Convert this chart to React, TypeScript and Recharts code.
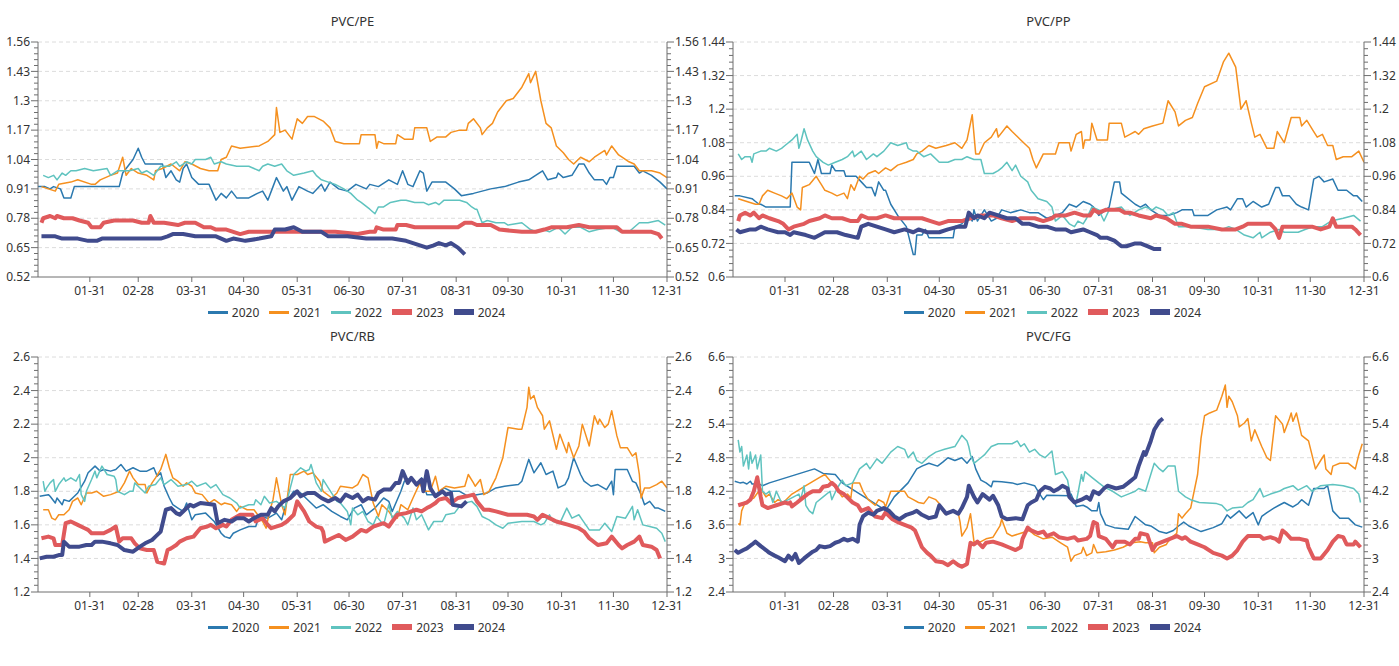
import React from 'react';
import { LineChart, Line, XAxis, YAxis, ReferenceLine, Legend } from 'recharts';

type Pt = [number, number];

const monthEndDays = [31, 59, 90, 120, 151, 181, 212, 243, 273, 304, 334, 365];
const monthEndLabels = ['01-31', '02-28', '03-31', '04-30', '05-31', '06-30', '07-31', '08-31', '09-30', '10-31', '11-30', '12-31'];
const years = ['2020', '2021', '2022', '2023', '2024'];
const yearColors = ['#2b79af', '#f5901f', '#5fc3bf', '#e05a5c', '#404b8d'];
const yearWidths = [1.5, 1.5, 1.5, 4, 4];

const peTicks = [0.52, 0.65, 0.78, 0.91, 1.04, 1.17, 1.3, 1.43, 1.56];
const ppTicks = [0.6, 0.72, 0.84, 0.96, 1.08, 1.2, 1.32, 1.44];
const rbTicks = [1.2, 1.4, 1.6, 1.8, 2, 2.2, 2.4, 2.6];
const fgTicks = [2.4, 3, 3.6, 4.2, 4.8, 5.4, 6, 6.6];

// ---------- PVC/PE ----------
const pe2020: Pt[] = [[1,0.92],[5,0.92],[8,0.91],[10,0.92],[14,0.91],[16,0.87],[20,0.87],[22,0.92],[48,0.92],[50,0.98],[56,1.04],[59,1.09],[61,1.05],[63,1.02],[73,1.02],[75,0.96],[78,0.99],[81,0.95],[83,0.94],[85,1.0],[87,1.02],[90,0.96],[94,0.93],[100,0.93],[104,0.86],[107,0.89],[110,0.87],[113,0.9],[116,0.87],[123,0.87],[128,0.89],[131,0.9],[134,0.86],[137,0.92],[139,0.96],[143,0.9],[145,0.92],[148,0.86],[152,0.92],[157,0.9],[160,0.89],[165,0.93],[167,0.9],[170,0.94],[175,0.91],[180,0.9],[185,0.93],[191,0.91],[193,0.93],[198,0.92],[204,0.95],[209,0.93],[212,0.99],[215,0.93],[218,0.92],[222,0.99],[224,0.98],[226,0.9],[229,0.94],[237,0.94],[242,0.91],[246,0.88],[253,0.89],[258,0.9],[263,0.91],[271,0.92],[279,0.94],[285,0.95],[289,0.97],[293,0.99],[296,0.95],[301,0.96],[302,0.98],[305,0.96],[310,0.97],[314,1.02],[317,1.02],[320,0.98],[323,0.95],[328,0.95],[330,0.93],[332,0.96],[334,0.96],[336,1.01],[346,1.01],[349,0.98],[351,0.99],[356,0.97],[361,0.94],[365,0.91]];
const pe2021: Pt[] = [[3,0.92],[11,0.9],[13,0.93],[20,0.94],[24,0.95],[32,0.93],[34,0.93],[37,0.95],[43,0.97],[47,0.98],[50,1.05],[52,0.97],[55,1.0],[59,0.98],[64,0.97],[68,0.95],[69,0.99],[73,1.0],[78,1.02],[83,0.99],[86,1.03],[90,1.02],[95,1.0],[100,0.99],[105,0.99],[107,1.04],[110,1.05],[113,1.1],[118,1.09],[129,1.1],[134,1.12],[138,1.15],[139,1.27],[141,1.16],[144,1.17],[148,1.13],[151,1.22],[154,1.2],[157,1.23],[161,1.23],[166,1.21],[170,1.18],[173,1.12],[178,1.11],[187,1.11],[188,1.15],[196,1.15],[197,1.09],[198,1.12],[201,1.11],[208,1.11],[209,1.15],[213,1.13],[218,1.13],[219,1.18],[226,1.18],[228,1.12],[232,1.14],[237,1.14],[240,1.16],[245,1.17],[249,1.17],[250,1.2],[253,1.22],[257,1.18],[258,1.15],[261,1.18],[264,1.2],[267,1.25],[272,1.3],[276,1.31],[281,1.36],[285,1.42],[286,1.38],[289,1.43],[292,1.3],[295,1.2],[298,1.18],[301,1.1],[305,1.07],[308,1.04],[311,1.02],[315,1.05],[320,1.03],[323,1.05],[329,1.08],[330,1.06],[333,1.1],[337,1.06],[339,1.05],[343,1.03],[346,1.02],[349,0.99],[356,0.99],[361,0.98],[365,0.96]];
const pe2022: Pt[] = [[4,0.97],[7,0.96],[10,0.97],[12,0.95],[15,0.98],[17,0.97],[20,0.99],[23,0.99],[28,1.0],[33,0.99],[41,1.0],[43,0.97],[47,0.99],[54,0.99],[59,1.0],[61,0.98],[64,0.99],[68,0.97],[72,1.01],[77,1.01],[81,1.03],[83,1.01],[87,1.03],[90,1.02],[92,1.04],[98,1.04],[101,1.05],[103,1.02],[107,1.03],[110,1.02],[116,1.01],[123,1.01],[129,0.99],[131,1.01],[134,1.02],[138,1.01],[142,1.02],[145,0.99],[149,0.97],[155,0.98],[160,0.99],[162,0.97],[165,0.95],[169,0.94],[173,0.93],[178,0.91],[182,0.89],[186,0.86],[188,0.85],[193,0.82],[196,0.8],[198,0.83],[201,0.83],[205,0.85],[211,0.86],[214,0.86],[219,0.85],[224,0.85],[227,0.84],[231,0.85],[233,0.84],[236,0.86],[245,0.86],[249,0.85],[252,0.83],[254,0.82],[255,0.82],[258,0.76],[261,0.77],[266,0.76],[271,0.76],[273,0.75],[281,0.76],[286,0.73],[289,0.72],[293,0.73],[297,0.72],[302,0.74],[306,0.71],[310,0.74],[315,0.74],[320,0.72],[325,0.73],[333,0.74],[338,0.72],[343,0.72],[346,0.74],[349,0.76],[354,0.76],[360,0.77],[364,0.75]];
const pe2023: Pt[] = [[3,0.76],[4,0.78],[8,0.79],[11,0.78],[12,0.79],[16,0.78],[21,0.78],[25,0.77],[30,0.76],[32,0.74],[37,0.74],[39,0.76],[45,0.77],[56,0.77],[61,0.76],[65,0.76],[66,0.79],[68,0.76],[74,0.76],[82,0.75],[86,0.76],[92,0.76],[97,0.74],[101,0.74],[104,0.73],[110,0.73],[118,0.71],[123,0.72],[131,0.72],[136,0.72],[147,0.72],[154,0.72],[160,0.72],[173,0.72],[186,0.71],[193,0.72],[196,0.72],[197,0.74],[201,0.73],[208,0.73],[209,0.75],[214,0.75],[219,0.74],[237,0.74],[244,0.74],[248,0.76],[252,0.76],[255,0.75],[263,0.75],[268,0.73],[281,0.72],[289,0.72],[294,0.73],[298,0.74],[307,0.74],[314,0.75],[320,0.74],[336,0.74],[339,0.72],[356,0.72],[360,0.71],[362,0.69]];
const pe2024: Pt[] = [[3,0.7],[11,0.7],[15,0.69],[24,0.69],[30,0.68],[35,0.68],[38,0.69],[51,0.69],[59,0.69],[72,0.69],[76,0.7],[79,0.71],[85,0.71],[92,0.7],[104,0.7],[110,0.68],[114,0.69],[121,0.68],[129,0.69],[136,0.7],[138,0.73],[144,0.73],[149,0.74],[154,0.72],[165,0.72],[169,0.7],[180,0.7],[191,0.69],[198,0.69],[206,0.69],[214,0.68],[222,0.66],[226,0.65],[230,0.66],[233,0.67],[237,0.66],[240,0.67],[244,0.65],[248,0.62]];

// ---------- PVC/PP ----------
const pp2020: Pt[] = [[2,0.89],[5,0.89],[12,0.88],[14,0.87],[16,0.86],[17,0.86],[20,0.85],[34,0.85],[35,1.01],[45,1.01],[48,0.97],[50,1.02],[52,0.97],[57,0.97],[58,1.0],[60,0.98],[65,0.98],[66,0.96],[72,0.96],[75,0.94],[78,0.92],[81,0.92],[83,0.89],[85,0.94],[88,0.91],[89,0.91],[92,0.86],[96,0.82],[101,0.78],[105,0.68],[106,0.68],[107,0.75],[110,0.75],[112,0.77],[114,0.74],[128,0.74],[129,0.78],[133,0.79],[137,0.82],[139,0.8],[140,0.84],[142,0.8],[146,0.84],[150,0.8],[153,0.81],[156,0.84],[161,0.83],[167,0.84],[172,0.83],[177,0.83],[182,0.81],[187,0.82],[191,0.83],[195,0.86],[199,0.85],[203,0.87],[207,0.86],[209,0.85],[212,0.82],[216,0.84],[218,0.85],[221,0.94],[224,0.94],[225,0.9],[227,0.89],[233,0.86],[236,0.85],[239,0.86],[242,0.84],[247,0.82],[252,0.82],[257,0.83],[260,0.84],[266,0.84],[267,0.82],[275,0.82],[280,0.84],[286,0.85],[288,0.84],[292,0.88],[295,0.88],[297,0.85],[301,0.87],[306,0.85],[310,0.86],[314,0.92],[316,0.92],[318,0.89],[322,0.89],[326,0.86],[329,0.85],[333,0.84],[336,0.95],[339,0.96],[342,0.94],[347,0.95],[350,0.91],[355,0.91],[359,0.89],[361,0.89],[364,0.87]];
const pp2021: Pt[] = [[4,0.88],[9,0.87],[14,0.86],[16,0.86],[18,0.89],[21,0.91],[25,0.9],[29,0.89],[32,0.88],[35,0.9],[38,0.85],[40,0.84],[41,0.92],[45,0.93],[49,0.96],[52,0.93],[54,0.91],[58,0.9],[61,0.89],[65,0.9],[67,0.88],[69,0.93],[71,0.91],[74,0.96],[76,0.95],[79,0.97],[83,0.98],[85,0.97],[89,0.99],[92,0.98],[96,1.0],[101,1.01],[105,1.02],[107,1.04],[110,1.05],[114,1.07],[118,1.06],[124,1.07],[129,1.08],[133,1.06],[136,1.09],[139,1.18],[141,1.04],[143,1.04],[146,1.08],[150,1.1],[153,1.13],[154,1.1],[159,1.14],[162,1.12],[167,1.09],[172,1.06],[174,1.02],[176,0.99],[180,1.04],[187,1.04],[189,1.08],[195,1.08],[196,1.05],[199,1.11],[202,1.12],[203,1.06],[204,1.09],[207,1.09],[208,1.15],[211,1.09],[217,1.09],[218,1.15],[225,1.15],[227,1.1],[230,1.11],[233,1.12],[235,1.11],[238,1.13],[243,1.14],[249,1.15],[252,1.23],[256,1.19],[258,1.14],[262,1.16],[266,1.17],[269,1.22],[273,1.28],[280,1.3],[284,1.37],[287,1.4],[291,1.35],[294,1.2],[297,1.23],[300,1.15],[302,1.1],[305,1.11],[309,1.06],[313,1.06],[315,1.12],[319,1.08],[323,1.17],[328,1.17],[329,1.14],[332,1.16],[336,1.12],[338,1.1],[341,1.11],[344,1.07],[347,1.07],[349,1.02],[353,1.03],[358,1.03],[362,1.05],[365,1.01]];
const pp2022: Pt[] = [[4,1.04],[6,1.02],[8,1.03],[11,1.03],[12,1.01],[13,1.04],[17,1.05],[20,1.05],[22,1.06],[26,1.05],[29,1.06],[31,1.07],[35,1.09],[38,1.11],[39,1.06],[40,1.08],[42,1.13],[44,1.09],[47,1.05],[49,1.03],[53,1.01],[56,1.0],[60,1.01],[64,1.02],[67,1.03],[70,1.05],[71,1.03],[75,1.05],[78,1.02],[82,1.04],[84,1.03],[88,1.05],[92,1.08],[96,1.07],[101,1.08],[102,1.06],[105,1.05],[107,1.05],[111,1.03],[115,1.04],[120,1.01],[125,1.01],[129,1.02],[133,1.02],[136,1.03],[140,1.02],[144,1.02],[146,0.97],[151,0.97],[154,0.98],[156,0.99],[159,1.01],[162,0.98],[164,1.0],[167,0.96],[171,0.94],[173,0.91],[177,0.88],[182,0.87],[185,0.85],[187,0.8],[191,0.82],[195,0.79],[198,0.78],[200,0.8],[203,0.79],[205,0.81],[208,0.85],[212,0.84],[215,0.8],[218,0.84],[225,0.85],[228,0.83],[230,0.82],[235,0.84],[239,0.85],[243,0.84],[245,0.85],[249,0.84],[252,0.82],[255,0.83],[258,0.78],[265,0.78],[275,0.77],[283,0.77],[287,0.78],[291,0.77],[296,0.75],[301,0.74],[305,0.76],[306,0.74],[311,0.76],[316,0.77],[319,0.76],[327,0.76],[331,0.77],[336,0.78],[341,0.78],[346,0.8],[353,0.81],[359,0.82],[363,0.8]];
const pp2023: Pt[] = [[4,0.8],[5,0.82],[8,0.83],[11,0.82],[13,0.83],[16,0.81],[18,0.82],[22,0.81],[27,0.8],[30,0.79],[33,0.77],[36,0.78],[42,0.79],[45,0.8],[51,0.81],[54,0.82],[58,0.81],[64,0.81],[69,0.8],[73,0.8],[75,0.82],[79,0.81],[84,0.81],[89,0.82],[94,0.81],[102,0.81],[110,0.81],[115,0.8],[120,0.79],[125,0.8],[133,0.8],[138,0.81],[144,0.82],[151,0.82],[156,0.81],[162,0.8],[167,0.81],[175,0.81],[180,0.8],[185,0.81],[187,0.82],[193,0.82],[198,0.83],[203,0.82],[207,0.82],[209,0.84],[212,0.83],[216,0.84],[224,0.84],[227,0.83],[230,0.83],[235,0.82],[242,0.81],[245,0.82],[251,0.81],[256,0.79],[260,0.79],[265,0.78],[275,0.78],[283,0.77],[291,0.77],[295,0.78],[298,0.79],[311,0.79],[314,0.77],[316,0.74],[318,0.78],[327,0.78],[335,0.78],[340,0.77],[345,0.78],[347,0.81],[349,0.78],[358,0.78],[360,0.77],[363,0.75]];
const pp2024: Pt[] = [[3,0.77],[5,0.76],[11,0.77],[14,0.77],[17,0.78],[21,0.77],[27,0.76],[31,0.76],[34,0.75],[36,0.76],[43,0.75],[48,0.74],[54,0.76],[61,0.76],[66,0.75],[73,0.74],[75,0.78],[79,0.79],[84,0.78],[89,0.77],[94,0.76],[100,0.77],[105,0.76],[108,0.77],[113,0.76],[120,0.76],[125,0.77],[131,0.78],[135,0.78],[137,0.83],[140,0.81],[142,0.82],[146,0.81],[149,0.83],[154,0.82],[159,0.81],[164,0.81],[168,0.79],[172,0.79],[177,0.78],[182,0.78],[187,0.77],[193,0.77],[196,0.76],[203,0.77],[207,0.76],[211,0.75],[213,0.74],[217,0.74],[221,0.73],[225,0.71],[228,0.71],[233,0.72],[236,0.72],[240,0.71],[244,0.7],[248,0.7]];

// ---------- PVC/RB ----------
const rb2020: Pt[] = [[2,1.77],[7,1.78],[8,1.77],[11,1.73],[12,1.76],[15,1.72],[16,1.75],[19,1.74],[21,1.76],[24,1.79],[28,1.86],[30,1.91],[34,1.95],[37,1.92],[39,1.93],[43,1.92],[46,1.93],[49,1.96],[52,1.92],[56,1.94],[60,1.92],[64,1.92],[68,1.94],[70,1.89],[72,1.91],[74,1.83],[77,1.76],[79,1.72],[82,1.7],[85,1.68],[87,1.73],[90,1.63],[92,1.66],[98,1.67],[103,1.62],[107,1.55],[109,1.53],[112,1.52],[114,1.55],[118,1.57],[123,1.59],[127,1.59],[129,1.65],[134,1.64],[139,1.67],[142,1.63],[145,1.74],[149,1.8],[153,1.79],[157,1.75],[162,1.7],[166,1.72],[171,1.68],[176,1.65],[180,1.63],[184,1.7],[188,1.72],[191,1.66],[196,1.7],[201,1.76],[204,1.74],[206,1.68],[211,1.8],[213,1.86],[217,1.88],[220,1.84],[223,1.88],[226,1.78],[231,1.78],[236,1.82],[240,1.8],[245,1.8],[250,1.77],[255,1.78],[261,1.79],[266,1.82],[271,1.83],[279,1.84],[281,1.86],[285,1.99],[288,1.91],[292,1.97],[295,1.9],[299,1.92],[302,1.82],[306,1.84],[308,1.88],[311,2.0],[315,1.9],[317,1.86],[321,1.83],[325,1.84],[330,1.81],[333,1.86],[334,1.78],[335,1.93],[342,1.93],[345,1.86],[347,1.85],[350,1.78],[352,1.72],[355,1.74],[358,1.7],[360,1.7],[364,1.68]];
const rb2021: Pt[] = [[4,1.69],[7,1.69],[9,1.64],[11,1.63],[13,1.66],[16,1.66],[19,1.69],[21,1.74],[24,1.76],[26,1.72],[29,1.79],[32,1.79],[35,1.8],[39,1.77],[43,1.78],[48,1.8],[51,1.85],[54,1.92],[56,1.88],[59,1.84],[63,1.84],[64,1.79],[67,1.85],[69,1.88],[72,1.93],[75,2.02],[77,1.94],[79,1.88],[82,1.86],[85,1.83],[87,1.85],[90,1.83],[92,1.79],[96,1.78],[100,1.73],[103,1.75],[107,1.72],[109,1.73],[113,1.72],[116,1.68],[118,1.71],[122,1.69],[126,1.69],[131,1.62],[133,1.58],[135,1.68],[137,1.75],[139,1.88],[142,1.72],[144,1.66],[147,1.9],[151,1.9],[155,1.92],[157,1.9],[160,1.91],[164,1.86],[166,1.8],[171,1.76],[174,1.79],[176,1.83],[183,1.82],[186,1.84],[189,1.9],[192,1.88],[195,1.73],[198,1.65],[200,1.72],[204,1.68],[206,1.65],[209,1.64],[211,1.72],[215,1.69],[218,1.76],[222,1.85],[224,1.8],[228,1.8],[231,1.89],[233,1.8],[237,1.83],[242,1.82],[248,1.83],[250,1.9],[253,1.85],[254,1.83],[257,1.87],[259,1.78],[262,1.8],[266,1.88],[270,2.0],[273,2.18],[279,2.17],[281,2.17],[284,2.3],[285,2.42],[286,2.35],[288,2.37],[290,2.3],[293,2.25],[294,2.17],[297,2.22],[301,2.05],[303,2.14],[307,2.03],[308,2.09],[311,2.0],[314,2.07],[316,2.2],[320,2.07],[323,2.25],[325,2.2],[326,2.23],[329,2.18],[331,2.2],[333,2.28],[336,2.13],[338,2.06],[342,2.06],[345,2.01],[347,2.03],[349,1.9],[350,1.76],[352,1.82],[355,1.82],[359,1.84],[362,1.86],[365,1.82]];
const rb2022: Pt[] = [[4,1.86],[5,1.8],[6,1.82],[8,1.85],[10,1.87],[11,1.8],[13,1.84],[16,1.88],[17,1.86],[20,1.88],[23,1.86],[25,1.9],[26,1.78],[28,1.74],[29,1.8],[32,1.87],[34,1.92],[35,1.88],[38,1.95],[41,1.9],[45,1.89],[46,1.87],[47,1.8],[51,1.78],[54,1.8],[56,1.8],[57,1.85],[60,1.82],[63,1.79],[65,1.83],[69,1.84],[72,1.88],[74,1.84],[78,1.87],[82,1.83],[87,1.84],[90,1.86],[93,1.83],[98,1.85],[101,1.82],[104,1.84],[108,1.78],[112,1.76],[116,1.73],[118,1.7],[123,1.72],[126,1.72],[127,1.75],[130,1.72],[132,1.77],[135,1.73],[139,1.74],[144,1.7],[147,1.82],[149,1.9],[153,1.94],[156,1.92],[158,1.93],[159,1.96],[162,1.85],[165,1.8],[166,1.87],[169,1.82],[174,1.74],[176,1.73],[180,1.68],[182,1.6],[183,1.7],[186,1.66],[189,1.68],[192,1.62],[195,1.6],[197,1.65],[201,1.6],[204,1.72],[206,1.64],[209,1.68],[213,1.64],[215,1.6],[218,1.7],[220,1.63],[223,1.66],[227,1.57],[230,1.62],[235,1.62],[237,1.66],[242,1.67],[245,1.71],[248,1.73],[252,1.74],[255,1.71],[258,1.65],[262,1.63],[266,1.6],[270,1.58],[273,1.61],[281,1.62],[288,1.62],[292,1.6],[294,1.61],[297,1.66],[299,1.62],[303,1.61],[307,1.7],[310,1.64],[314,1.66],[316,1.63],[320,1.57],[326,1.57],[329,1.61],[333,1.56],[336,1.65],[341,1.64],[345,1.71],[346,1.63],[348,1.69],[351,1.6],[355,1.59],[359,1.58],[362,1.55],[364,1.5]];
const rb2023: Pt[] = [[3,1.52],[7,1.53],[10,1.52],[11,1.48],[15,1.48],[17,1.61],[20,1.62],[24,1.6],[28,1.58],[30,1.57],[32,1.55],[39,1.55],[43,1.57],[46,1.59],[48,1.5],[50,1.52],[55,1.52],[57,1.49],[60,1.46],[64,1.45],[68,1.45],[70,1.38],[74,1.37],[76,1.45],[78,1.46],[81,1.48],[83,1.5],[87,1.52],[91,1.53],[95,1.58],[99,1.59],[101,1.6],[104,1.58],[108,1.6],[110,1.59],[113,1.63],[118,1.66],[125,1.66],[127,1.62],[131,1.64],[134,1.6],[136,1.58],[142,1.6],[145,1.62],[149,1.66],[151,1.74],[155,1.68],[158,1.62],[162,1.59],[165,1.58],[166,1.56],[167,1.5],[171,1.52],[175,1.54],[179,1.51],[183,1.53],[188,1.57],[191,1.56],[195,1.59],[198,1.6],[201,1.61],[204,1.59],[206,1.62],[209,1.66],[214,1.67],[217,1.68],[220,1.69],[223,1.68],[226,1.7],[228,1.71],[231,1.73],[233,1.75],[237,1.76],[240,1.73],[244,1.76],[249,1.77],[253,1.78],[255,1.74],[259,1.69],[262,1.69],[266,1.68],[273,1.66],[284,1.66],[288,1.65],[290,1.63],[293,1.66],[297,1.64],[301,1.62],[308,1.6],[314,1.58],[317,1.56],[320,1.52],[325,1.48],[330,1.49],[333,1.53],[337,1.48],[339,1.46],[342,1.48],[346,1.5],[349,1.53],[351,1.48],[356,1.47],[359,1.45],[361,1.4]];
const rb2024: Pt[] = [[2,1.4],[6,1.41],[10,1.41],[13,1.42],[15,1.42],[16,1.5],[19,1.47],[25,1.47],[29,1.48],[32,1.48],[34,1.5],[38,1.5],[43,1.49],[47,1.48],[51,1.45],[56,1.44],[60,1.47],[63,1.49],[67,1.51],[69,1.53],[72,1.56],[75,1.69],[78,1.7],[81,1.67],[83,1.66],[86,1.69],[89,1.72],[91,1.71],[95,1.73],[103,1.72],[105,1.61],[109,1.63],[113,1.62],[116,1.64],[120,1.64],[123,1.62],[126,1.64],[130,1.66],[134,1.66],[136,1.7],[138,1.68],[140,1.71],[143,1.74],[147,1.76],[151,1.8],[153,1.77],[157,1.79],[161,1.79],[165,1.76],[169,1.74],[173,1.76],[176,1.74],[179,1.78],[183,1.76],[186,1.78],[189,1.74],[192,1.76],[196,1.75],[198,1.79],[201,1.81],[205,1.81],[208,1.85],[210,1.85],[212,1.92],[215,1.85],[217,1.88],[220,1.84],[223,1.87],[224,1.8],[226,1.92],[228,1.82],[231,1.77],[235,1.8],[237,1.78],[240,1.79],[241,1.72],[246,1.71],[249,1.74]];

// ---------- PVC/FG ----------
const fg2020: Pt[] = [[2,4.38],[5,4.35],[7,4.36],[9,4.33],[11,4.38],[12,4.33],[16,4.33],[18,4.3],[22,4.35],[48,4.6],[53,4.52],[60,4.5],[64,4.35],[87,3.9],[89,3.85],[94,4.1],[102,4.35],[107,4.6],[110,4.65],[114,4.7],[119,4.65],[122,4.72],[125,4.8],[129,4.75],[133,4.8],[136,4.7],[139,4.82],[141,4.6],[144,4.4],[147,4.35],[150,4.28],[151,4.38],[156,4.37],[162,4.35],[165,4.32],[169,4.35],[175,4.3],[177,4.2],[180,4.05],[182,4.13],[195,4.12],[196,4.15],[199,3.93],[203,3.95],[205,3.92],[208,3.85],[211,3.85],[212,4.0],[213,3.8],[216,3.6],[221,3.55],[229,3.52],[233,3.75],[235,3.7],[239,3.6],[242,3.58],[247,3.48],[251,3.45],[255,3.5],[258,3.58],[261,3.65],[264,3.58],[266,3.55],[271,3.48],[278,3.55],[283,3.62],[286,3.78],[288,3.72],[293,3.85],[297,3.72],[301,3.82],[304,3.6],[306,3.75],[309,3.82],[313,3.9],[316,3.95],[319,4.0],[322,3.95],[324,3.92],[327,3.98],[329,4.05],[333,3.95],[336,4.25],[340,4.25],[342,4.25],[344,4.3],[347,3.85],[351,3.72],[356,3.72],[360,3.6],[364,3.56]];
const fg2021: Pt[] = [[4,3.62],[5,3.6],[6,3.85],[8,4.0],[11,4.05],[13,4.08],[17,4.25],[20,4.1],[22,4.15],[25,4.0],[27,4.05],[30,4.0],[35,4.15],[43,4.3],[51,4.45],[54,4.5],[58,4.35],[64,4.1],[67,4.15],[69,4.08],[70,4.35],[74,4.35],[76,4.2],[79,4.05],[83,3.95],[85,4.05],[88,4.0],[89,3.92],[92,4.2],[100,4.2],[102,4.1],[105,4.05],[108,4.0],[111,3.98],[114,4.1],[118,4.05],[120,3.98],[123,3.8],[127,3.85],[131,3.8],[132,3.65],[133,3.4],[136,3.55],[138,3.8],[140,3.3],[144,3.3],[147,3.35],[151,3.38],[155,3.58],[156,3.7],[159,3.45],[162,3.4],[167,3.45],[172,3.5],[175,3.42],[180,3.35],[185,3.38],[190,3.28],[194,3.2],[196,2.95],[198,3.05],[202,3.1],[203,3.2],[205,3.05],[208,3.1],[209,3.25],[211,3.1],[216,3.12],[221,3.15],[226,3.2],[231,3.28],[236,3.3],[239,3.28],[243,3.28],[244,3.1],[247,3.2],[251,3.25],[252,3.3],[255,3.4],[257,3.45],[258,3.8],[260,3.72],[262,3.8],[265,3.9],[269,4.5],[271,5.15],[273,5.55],[276,5.6],[280,5.65],[283,5.9],[285,6.1],[286,5.7],[287,5.9],[289,5.8],[292,5.55],[293,5.35],[296,5.42],[298,5.5],[300,5.1],[302,5.3],[306,5.0],[309,4.8],[311,4.75],[314,5.55],[318,5.4],[319,5.25],[322,5.5],[323,5.6],[324,5.45],[326,5.6],[329,5.2],[333,5.1],[335,4.85],[337,4.6],[340,4.75],[342,4.85],[343,4.6],[346,4.5],[347,4.65],[351,4.7],[356,4.7],[360,4.6],[362,4.85],[364,5.05]];
const fg2022: Pt[] = [[4,5.12],[5,4.9],[6,5.0],[7,4.65],[9,4.85],[10,4.6],[11,4.9],[12,4.7],[14,4.85],[15,4.6],[17,4.85],[18,4.2],[20,4.15],[22,4.2],[24,4.0],[26,4.2],[29,4.0],[33,4.05],[36,4.1],[39,4.15],[40,4.05],[42,4.3],[43,3.95],[45,3.85],[47,3.8],[49,4.0],[53,4.1],[57,4.2],[58,4.05],[61,4.25],[64,4.4],[66,4.3],[70,4.35],[74,4.6],[78,4.7],[80,4.6],[84,4.78],[87,4.7],[92,4.9],[96,5.0],[100,4.95],[102,4.8],[105,4.9],[107,4.75],[110,4.7],[114,4.82],[118,4.9],[123,4.95],[129,5.0],[133,5.2],[136,5.1],[137,5.0],[138,4.85],[140,4.7],[144,4.8],[146,4.85],[150,5.0],[154,5.05],[162,5.05],[165,5.1],[167,5.0],[169,5.05],[172,4.9],[175,4.95],[178,4.85],[181,4.8],[185,4.92],[187,4.5],[191,4.55],[194,4.4],[196,4.05],[199,4.0],[202,4.5],[203,4.38],[204,4.55],[208,4.45],[212,4.35],[215,4.28],[220,4.2],[225,4.1],[229,4.15],[233,4.2],[235,4.25],[239,4.2],[244,4.7],[247,4.6],[249,4.55],[252,4.65],[256,4.65],[258,4.2],[262,4.1],[265,4.05],[270,4.0],[280,3.98],[283,3.95],[286,3.85],[289,3.9],[295,3.92],[298,4.0],[301,4.05],[305,4.25],[307,4.1],[311,4.15],[316,4.2],[319,4.25],[324,4.3],[327,4.22],[332,4.3],[335,4.2],[340,4.3],[347,4.32],[353,4.3],[359,4.25],[362,4.15],[363,4.0]];
const fg2023: Pt[] = [[4,3.95],[7,3.98],[9,4.0],[11,4.05],[13,4.2],[15,4.45],[17,4.1],[18,3.95],[21,3.9],[24,3.93],[26,3.95],[29,3.98],[31,4.0],[33,3.98],[34,4.0],[35,3.93],[38,4.0],[40,4.05],[44,4.15],[47,4.2],[51,4.2],[53,4.28],[56,4.3],[58,4.35],[60,4.3],[62,4.2],[65,4.15],[70,4.0],[73,3.95],[75,3.85],[79,3.9],[83,3.75],[87,3.72],[89,3.82],[93,3.7],[96,3.65],[100,3.6],[104,3.55],[106,3.5],[110,3.2],[113,3.1],[115,3.05],[118,2.95],[122,2.93],[125,2.88],[128,2.95],[131,2.88],[133,2.85],[136,2.9],[138,3.28],[140,3.25],[142,3.3],[145,3.2],[147,3.28],[151,3.3],[156,3.25],[160,3.2],[164,3.15],[167,3.2],[168,3.35],[171,3.55],[173,3.5],[177,3.45],[180,3.48],[182,3.4],[186,3.45],[189,3.38],[194,3.35],[198,3.38],[200,3.32],[205,3.35],[207,3.4],[209,3.65],[211,3.62],[212,3.4],[216,3.35],[220,3.2],[222,3.3],[227,3.3],[230,3.25],[233,3.35],[235,3.35],[236,3.45],[240,3.42],[243,3.15],[245,3.25],[249,3.3],[253,3.35],[257,3.4],[260,3.35],[262,3.38],[265,3.3],[269,3.25],[273,3.2],[278,3.1],[283,3.05],[286,3.0],[289,3.05],[292,3.15],[295,3.3],[298,3.4],[305,3.4],[307,3.35],[311,3.38],[314,3.35],[316,3.3],[318,3.5],[320,3.45],[323,3.35],[328,3.35],[332,3.32],[333,3.2],[336,3.0],[340,3.0],[344,3.15],[347,3.3],[350,3.4],[353,3.38],[355,3.25],[359,3.25],[360,3.3],[363,3.2]];
const fg2024: Pt[] = [[2,3.15],[4,3.1],[7,3.15],[9,3.18],[12,3.25],[14,3.3],[17,3.22],[20,3.15],[22,3.1],[25,3.05],[27,3.02],[31,2.95],[33,3.05],[35,2.98],[37,3.08],[39,2.92],[42,3.0],[44,3.05],[47,3.12],[49,3.15],[51,3.22],[54,3.2],[57,3.22],[60,3.28],[62,3.3],[65,3.35],[67,3.32],[70,3.35],[73,3.3],[74,3.6],[76,3.75],[79,3.82],[82,3.78],[84,3.85],[88,3.9],[91,3.85],[94,3.75],[97,3.7],[101,3.78],[105,3.82],[107,3.85],[110,3.78],[114,3.72],[118,3.75],[120,3.95],[124,3.8],[128,3.85],[131,3.8],[133,3.9],[136,4.1],[137,4.3],[140,4.1],[142,4.0],[145,4.15],[149,4.05],[151,4.12],[154,3.95],[156,3.75],[159,3.7],[164,3.72],[168,3.7],[171,3.95],[173,4.0],[176,4.05],[178,4.2],[181,4.28],[184,4.25],[186,4.2],[189,4.25],[191,4.3],[194,4.25],[195,4.1],[198,4.0],[202,4.05],[205,4.1],[207,4.05],[209,4.2],[212,4.15],[215,4.25],[217,4.3],[222,4.25],[226,4.28],[229,4.35],[233,4.45],[235,4.65],[238,4.9],[239,4.85],[242,5.1],[244,5.3],[247,5.45],[249,5.5]];

const FONT = "'Noto Sans', 'Open Sans', sans-serif";
const AXIS = '#6e6e6e';
const TEXT = '#333';

const fmt = (v: number) => String(Number(v.toFixed(2)));

function withMinor(majors: number[], sub: number): number[] {
  const out: number[] = [];
  for (let i = 0; i < majors.length - 1; i++) {
    const a = majors[i];
    const b = majors[i + 1];
    for (let k = 0; k < sub; k++) out.push(Number((a + ((b - a) * k) / sub).toFixed(4)));
  }
  out.push(majors[majors.length - 1]);
  return out;
}

const YTick = (props: any) => {
  const { x, y, payload, side, majors } = props;
  const v = payload.value as number;
  const isMajor = majors.some((m: number) => Math.abs(m - v) < 1e-6);
  const dir = side === 'left' ? -1 : 1;
  const len = isMajor ? 7 : 4;
  return (
    <g>
      <line x1={x} y1={y} x2={x + dir * len} y2={y} stroke={AXIS} strokeWidth={1} />
      {isMajor && (
        <text x={x + dir * (len + 1)} y={y} dy="0.35em" textAnchor={side === 'left' ? 'end' : 'start'} fontSize={12} fill={TEXT} fontFamily={FONT}>
          {fmt(v)}
        </text>
      )}
    </g>
  );
};

const LegendBox = () => (
  <div style={{ display: 'flex', justifyContent: 'center', alignItems: 'center', height: 20, fontFamily: FONT, fontSize: 12, color: TEXT }}>
    {years.map((y, i) => (
      <div key={y} style={{ display: 'flex', alignItems: 'center', margin: '0 5px' }}>
        <span style={{ display: 'inline-block', width: 20, height: yearWidths[i] > 2 ? 6 : 3, background: yearColors[i], marginRight: 4 }} />
        <span>{y}</span>
      </div>
    ))}
  </div>
);

interface PanelProps {
  title: string;
  majors: number[];
  series: Pt[][];
  left: number;
  top: number;
  width: number;
  leftW: number;
  rightW: number;
}

const Panel = ({ title, majors, series, left, top, width, leftW, rightW }: PanelProps) => {
  const allTicks = withMinor(majors, 5);
  const lo = majors[0];
  const hi = majors[majors.length - 1];
  const plotW = width - leftW - rightW;
  return (
    <div style={{ position: 'absolute', left, top, width, height: 330 }}>
      <div style={{ position: 'absolute', top: 13, left: leftW, width: plotW, textAlign: 'center', fontFamily: FONT, fontSize: 13, color: TEXT, lineHeight: '16px' }}>
        {title}
      </div>
      <LineChart width={width} height={330} margin={{ top: 42, right: 0, bottom: 8, left: 0 }}>
        <XAxis
          dataKey="d"
          type="number"
          domain={[1, 365]}
          ticks={monthEndDays}
          interval={0}
          tickFormatter={(d: number) => monthEndLabels[monthEndDays.indexOf(d)] ?? ''}
          tick={{ fontSize: 12, fill: TEXT, fontFamily: FONT }}
          tickLine={{ stroke: AXIS }}
          axisLine={{ stroke: AXIS }}
          tickSize={5}
          tickMargin={4}
          height={25}
          allowDataOverflow
        />
        <YAxis
          yAxisId="left"
          orientation="left"
          type="number"
          domain={[lo, hi]}
          ticks={allTicks}
          interval={0}
          width={leftW}
          tickSize={0}
          tickMargin={0}
          tickLine={false}
          axisLine={{ stroke: AXIS }}
          tick={(p: any) => <YTick {...p} side="left" majors={majors} />}
          allowDataOverflow
        />
        <YAxis
          yAxisId="right"
          orientation="right"
          type="number"
          domain={[lo, hi]}
          ticks={allTicks}
          interval={0}
          width={rightW}
          tickSize={0}
          tickMargin={0}
          tickLine={false}
          axisLine={{ stroke: AXIS }}
          tick={(p: any) => <YTick {...p} side="right" majors={majors} />}
          allowDataOverflow
        />
        {majors.slice(1).map((m) => (
          <ReferenceLine key={m} yAxisId="left" y={m} stroke="#dcdcdc" strokeDasharray="4 3" />
        ))}
        {series.map((s, i) => (
          <Line
            key={years[i]}
            yAxisId="left"
            data={s.map(([d, v]) => ({ d, v }))}
            dataKey="v"
            name={years[i]}
            type="linear"
            stroke={yearColors[i]}
            strokeWidth={yearWidths[i]}
            dot={false}
            activeDot={false}
            isAnimationActive={false}
            strokeLinejoin="round"
          />
        ))}
        <Legend verticalAlign="bottom" height={20} wrapperStyle={{ left: leftW + 4, width: plotW }} content={() => <LegendBox />} />
      </LineChart>
    </div>
  );
}

export default function App() {
  return (
    <div style={{ position: 'absolute', left: 0, top: 0, width: 1399, height: 666, background: '#fff', fontFamily: FONT }}>
      <Panel title="PVC/PE" majors={peTicks} series={[pe2020, pe2021, pe2022, pe2023, pe2024]} left={0} top={0} width={700} leftW={38} rightW={33} />
      <Panel title="PVC/PP" majors={ppTicks} series={[pp2020, pp2021, pp2022, pp2023, pp2024]} left={700} top={0} width={699} leftW={33} rightW={35} />
      <Panel title="PVC/RB" majors={rbTicks} series={[rb2020, rb2021, rb2022, rb2023, rb2024]} left={0} top={315} width={700} leftW={38} rightW={33} />
      <Panel title="PVC/FG" majors={fgTicks} series={[fg2020, fg2021, fg2022, fg2023, fg2024]} left={700} top={315} width={699} leftW={33} rightW={35} />
    </div>
  );
}
